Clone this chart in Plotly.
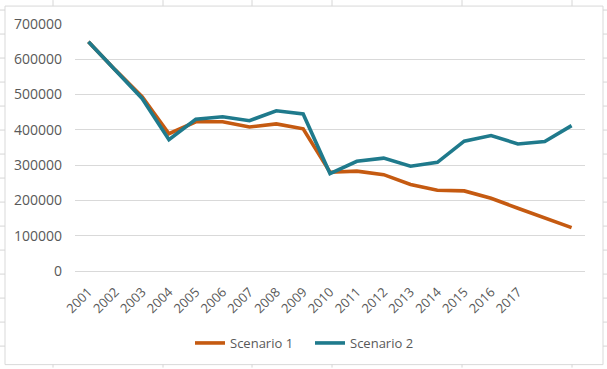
import plotly.graph_objects as go

years = [str(y) for y in range(2001, 2018)]  # labelled categories
scenario1 = [650000, 570000, 494000, 389000, 423000, 423000, 408000, 417000, 403000,
             280000, 283000, 273000, 245000, 229000, 227000, 206000, 178000, 150000, 123000]
scenario2 = [650000, 569000, 489000, 372000, 430000, 437000, 426000, 454000, 445000,
             276000, 311000, 320000, 297000, 308000, 368000, 384000, 360000, 367000, 412000]
series_names = ["Scenario 1", "Scenario 2"]
colors = ["#c55a11", "#1f7a8c"]

W, H = 607, 369
L, R, T, B = 75, 585, 24, 272  # plot area in pixels

def px(x):
    return (x - L) / (R - L)

def py(y):
    return (B - y) / (B - T)

x_idx = list(range(len(scenario1)))

fig = go.Figure()
for name, vals, col in zip(series_names, [scenario1, scenario2], colors):
    fig.add_trace(go.Scatter(x=x_idx, y=vals, mode="lines", name=name,
                             line=dict(color=col, width=3.6)))

shapes = []
grid_col = "#d6d6d6"
# spreadsheet cell lines outside the chart box
for yy in [10 + 24.1 * k for k in range(15)]:
    shapes.append(dict(type="line", xref="paper", yref="paper", x0=px(0), x1=px(5),
                       y0=py(yy), y1=py(yy), line=dict(color=grid_col, width=1)))
    shapes.append(dict(type="line", xref="paper", yref="paper", x0=px(603), x1=px(607),
                       y0=py(yy), y1=py(yy), line=dict(color=grid_col, width=1)))
for xx in [53, 163, 252, 332, 462, 572]:
    shapes.append(dict(type="line", xref="paper", yref="paper", x0=px(xx), x1=px(xx),
                       y0=py(0), y1=py(6), line=dict(color=grid_col, width=1)))
    shapes.append(dict(type="line", xref="paper", yref="paper", x0=px(xx), x1=px(xx),
                       y0=py(366), y1=py(369), line=dict(color=grid_col, width=1)))
# chart area border
shapes.append(dict(type="rect", xref="paper", yref="paper", x0=px(5), x1=px(603),
                   y0=py(366), y1=py(6), line=dict(color="#d9d9d9", width=1),
                   fillcolor="rgba(0,0,0,0)", layer="below"))

font_color = "#595959"
fig.update_layout(
    width=W, height=H,
    margin=dict(l=L, r=W - R, t=T, b=H - B, pad=0),
    paper_bgcolor="white", plot_bgcolor="white",
    font=dict(family="Open Sans", size=13, color=font_color),
    showlegend=True,
    legend=dict(orientation="h", x=px(310), xanchor="center", y=py(343), yanchor="middle",
                font=dict(family="Open Sans", size=13, color=font_color),
                itemwidth=30, entrywidth=75, entrywidthmode="pixels",
                tracegroupgap=0, bgcolor="rgba(0,0,0,0)"),
    xaxis=dict(range=[-0.5, len(scenario1) - 0.5], tickmode="array",
               tickvals=list(range(len(years))), ticktext=years, tickangle=-45,
               showgrid=False, zeroline=False, showline=False, ticks="",
               ticklabelstandoff=10, tickfont=dict(size=13, color=font_color)),
    yaxis=dict(range=[0, 700000], dtick=100000, tickformat="d",
               showgrid=True, gridcolor="#d9d9d9", gridwidth=1,
               zeroline=True, zerolinecolor="#d9d9d9", zerolinewidth=1,
               showline=False, ticks="", ticklabelstandoff=12,
               tickfont=dict(size=14, color=font_color)),
    shapes=shapes,
)

fig.write_html("out.html", config={"displayModeBar": False},
               post_script="document.body.style.margin='0';document.body.style.overflow='hidden';")
